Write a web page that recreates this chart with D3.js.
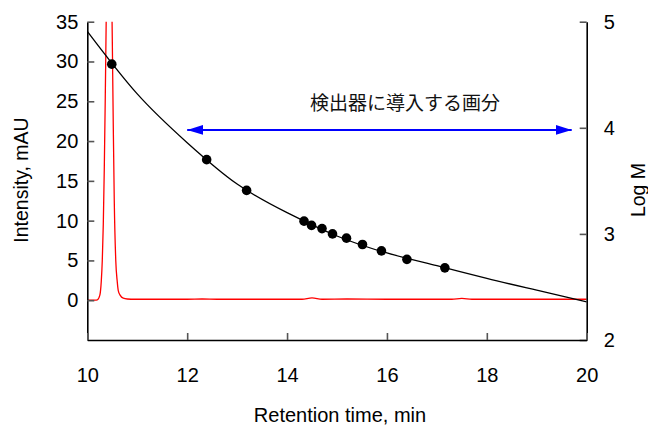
<!DOCTYPE html>
<html>
<head>
<meta charset="utf-8">
<script src="https://cdn.jsdelivr.net/npm/d3@7"></script>
<style>
  body { margin: 0; background: #fff; }
  svg { font-family: "Liberation Sans", Arial, sans-serif; }
</style>
</head>
<body>
<svg id="chart" width="648" height="426"></svg>
<script>
// calibration standards: retention time (min) vs log M
const stdTime = [10.49, 12.39, 13.19, 14.34, 14.49, 14.70, 14.91, 15.19, 15.51, 15.89, 16.40, 17.16];
const stdLogM = [4.60, 3.70, 3.41, 3.12, 3.08, 3.05, 3.00, 2.96, 2.90, 2.84, 2.76, 2.68];

// fitted calibration curve
const fitTime = [10, 11, 12, 13, 14, 15, 16, 17, 18, 19, 20];
const fitLogM = [4.91, 4.32, 3.86, 3.47, 3.20, 2.98, 2.82, 2.70, 2.58, 2.47, 2.36];

// chromatogram (mAU), peak goes off the top of the plot
const chromTime = [10.00, 10.15, 10.20, 10.25, 10.28, 10.30, 10.32, 10.34, 10.36, 10.38, 10.40, 10.42, 10.44,
  10.46, 10.48, 10.50, 10.52, 10.54, 10.57, 10.60, 10.62, 10.66, 10.72, 10.80, 10.95, 12.0, 12.3, 12.6,
  14.3, 14.5, 14.7, 15.2, 16.0, 17.3, 17.5, 17.7, 18.5, 20.0];
const chromMAU = [0.00, 0.02, 0.05, 0.6, 2.4, 5.0, 9.5, 16.5, 25.5, 36, 46, 53, 55,
  51, 43, 33, 22, 12.5, 5.0, 2.3, 1.2, 0.6, 0.25, 0.15, 0.12, 0.12, 0.15, 0.12,
  0.12, 0.3, 0.12, 0.15, 0.12, 0.12, 0.22, 0.12, 0.12, 0.12];

const leftTicks = [0, 5, 10, 15, 20, 25, 30, 35];
const rightTicks = [2, 3, 4, 5];
const xTicks = [10, 12, 14, 16, 18, 20];

const fractionRange = [12.0, 19.7]; // blue double arrow
const fractionLogM = 3.98;
const fractionLabel = "検出器に導入する画分";

const svg = d3.select("#chart");

const x = d3.scaleLinear().domain([10, 20]).range([87.3, 586.7]);
const yL = d3.scaleLinear().domain([-5, 35]).range([340, 21.7]);
const yR = d3.scaleLinear().domain([2, 5]).range([340, 21.7]);

const defs = svg.append("defs");
defs.append("clipPath").attr("id", "plotClip")
  .append("rect")
  .attr("x", x(10)).attr("y", yL(35))
  .attr("width", x(20) - x(10)).attr("height", yL(-5) - yL(35));

defs.append("marker")
  .attr("id", "arrowHead")
  .attr("viewBox", "0 0 16 10")
  .attr("refX", 16).attr("refY", 5)
  .attr("markerWidth", 16).attr("markerHeight", 10)
  .attr("markerUnits", "userSpaceOnUse")
  .attr("orient", "auto-start-reverse")
  .append("path")
  .attr("d", "M0,0 L16,5 L0,10 Z")
  .attr("fill", "#0000ff");

const plot = svg.append("g").attr("clip-path", "url(#plotClip)");

// chromatogram
plot.append("path")
  .datum(chromTime.map((t, i) => [t, chromMAU[i]]))
  .attr("fill", "none")
  .attr("stroke", "#ff0000")
  .attr("stroke-width", 1.3)
  .attr("d", d3.line().x(d => x(d[0])).y(d => yL(d[1])).curve(d3.curveMonotoneX));

// calibration curve
plot.append("path")
  .datum(fitTime.map((t, i) => [t, fitLogM[i]]))
  .attr("fill", "none")
  .attr("stroke", "#000")
  .attr("stroke-width", 1.3)
  .attr("d", d3.line().x(d => x(d[0])).y(d => yR(d[1])).curve(d3.curveNatural));

// standards
svg.append("g").selectAll("circle")
  .data(stdTime.map((t, i) => [t, stdLogM[i]]))
  .join("circle")
  .attr("cx", d => x(d[0]))
  .attr("cy", d => yR(d[1]))
  .attr("r", 4.8)
  .attr("fill", "#000");

// fraction arrow + label
svg.append("line")
  .attr("x1", x(fractionRange[0])).attr("x2", x(fractionRange[1]))
  .attr("y1", yR(fractionLogM)).attr("y2", yR(fractionLogM))
  .attr("stroke", "#0000ff")
  .attr("stroke-width", 2)
  .attr("marker-start", "url(#arrowHead)")
  .attr("marker-end", "url(#arrowHead)");

svg.append("text")
  .attr("x", 405).attr("y", 110)
  .attr("text-anchor", "middle")
  .attr("font-family", "'Noto Sans CJK JP', sans-serif")
  .attr("font-size", 19)
  .attr("fill", "#111")
  .text(fractionLabel);

// axes
function styleAxis(g) {
  g.select(".domain").attr("stroke", "#000").attr("stroke-width", 1.6);
  g.selectAll(".tick line").attr("stroke", "#555").attr("stroke-width", 1.6);
  g.selectAll(".tick text").attr("font-size", 20).attr("fill", "#000")
    .attr("font-family", "'Liberation Sans', Arial, sans-serif");
}

svg.append("g")
  .attr("transform", `translate(${x(10)},0)`)
  .call(d3.axisLeft(yL).tickValues(leftTicks).tickSizeInner(-7).tickSizeOuter(0).tickPadding(9))
  .call(styleAxis);

svg.append("g")
  .attr("transform", `translate(${x(20)},0)`)
  .call(d3.axisRight(yR).tickValues(rightTicks).tickFormat(d3.format("d"))
    .tickSizeInner(-7).tickSizeOuter(0).tickPadding(17))
  .call(styleAxis);

svg.append("g")
  .attr("transform", `translate(0,${yL(-5)})`)
  .call(d3.axisBottom(x).tickValues(xTicks).tickSizeInner(-7).tickSizeOuter(0).tickPadding(28))
  .call(styleAxis);

// axis titles
svg.append("text")
  .attr("transform", `translate(28,180) rotate(-90)`)
  .attr("text-anchor", "middle")
  .attr("font-size", 19.5)
  .text("Intensity, mAU");

svg.append("text")
  .attr("transform", `translate(645,190) rotate(-90)`)
  .attr("text-anchor", "middle")
  .attr("font-size", 19.5)
  .text("Log M");

svg.append("text")
  .attr("x", 340).attr("y", 422)
  .attr("text-anchor", "middle")
  .attr("font-size", 20)
  .text("Retention time, min");
</script>
</body>
</html>
